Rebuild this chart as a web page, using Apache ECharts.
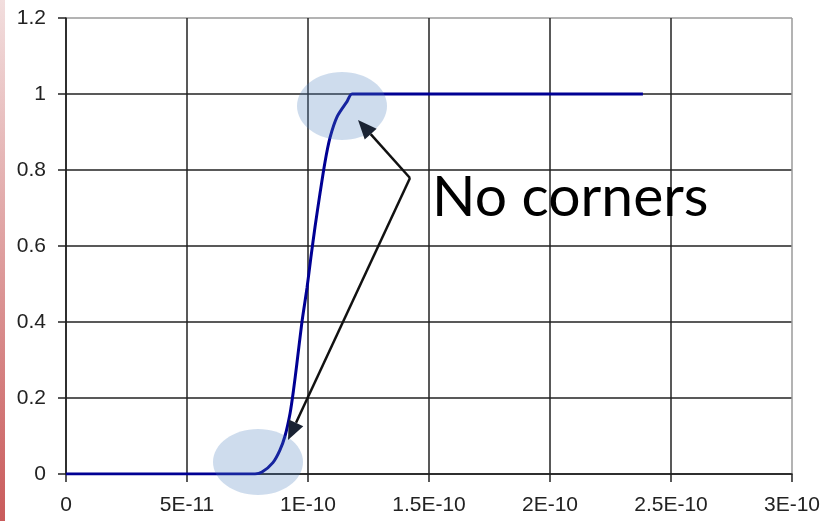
<!DOCTYPE html>
<html>
<head>
<meta charset="utf-8">
<script src="https://cdn.jsdelivr.net/npm/echarts@6/dist/echarts.min.js"></script>
<style>html,body{margin:0;padding:0;background:#fff}#c{width:823px;height:521px}</style>
</head>
<body>
<div id="c"></div>
<script>
// time (s) and normalized value
const times = [0, 7.81e-11, 8.10e-11, 8.55e-11, 8.84e-11, 9.05e-11, 9.26e-11, 9.40e-11, 9.54e-11, 9.75e-11, 9.96e-11, 1.012e-10, 1.029e-10, 1.050e-10, 1.070e-10, 1.091e-10, 1.120e-10, 1.161e-10, 1.182e-10, 2.384e-10];
const values = [0, 0, 0.005, 0.03, 0.063, 0.10, 0.16, 0.22, 0.29, 0.40, 0.49, 0.57, 0.65, 0.74, 0.82, 0.885, 0.94, 0.98, 1.0, 1.0];
const xTickLabels = ['0', '5E-11', '1E-10', '1.5E-10', '2E-10', '2.5E-10', '3E-10'];
const yTickLabels = ['0', '0.2', '0.4', '0.6', '0.8', '1', '1.2'];
const annotationText = 'No corners';

const chart = echarts.init(document.getElementById('c'));
const seriesData = times.map((t, i) => [t, values[i]]);

function arrow(x1, y1, x2, y2) {
  const ang = Math.atan2(y2 - y1, x2 - x1);
  const L = 19, W = 8;
  const bx = x2 - L * Math.cos(ang), by = y2 - L * Math.sin(ang);
  const px = -Math.sin(ang) * W, py = Math.cos(ang) * W;
  return [
    { type: 'line', shape: { x1: x1, y1: y1, x2: bx, y2: by }, style: { stroke: '#111', lineWidth: 2.5 }, z: 100 },
    { type: 'polygon', shape: { points: [[x2, y2], [bx + px, by + py], [bx - px, by - py]] }, style: { fill: '#1a2333' }, z: 100 }
  ];
}

const gridColorsY = ['#222', '#222', '#222', '#222', '#222', '#222', '#9a9a9a'];
const gridColorsX = ['#222', '#222', '#222', '#222', '#222', '#222', '#9a9a9a'];
const labelFont = 'Liberation Sans, Arial';

chart.setOption({
  animation: false,
  backgroundColor: '#fff',
  grid: { left: 66, right: 31, top: 18, bottom: 47, containLabel: false },
  xAxis: {
    type: 'value', min: 0, max: 3e-10, interval: 5e-11,
    axisLine: { show: true, onZero: false, lineStyle: { color: '#222', width: 1.5 } },
    axisTick: { show: true, length: 8, lineStyle: { color: '#222', width: 1.5 } },
    axisLabel: {
      margin: 21, color: '#222', fontFamily: labelFont, fontSize: 21,
      formatter: v => xTickLabels[Math.round(v / 5e-11)]
    },
    splitLine: { show: true, lineStyle: { color: gridColorsX, width: 1.5 } }
  },
  yAxis: {
    type: 'value', min: 0, max: 1.2, interval: 0.2,
    axisLine: { show: true, lineStyle: { color: '#222', width: 1.5 } },
    axisTick: { show: true, length: 8, lineStyle: { color: '#222', width: 1.5 } },
    axisLabel: {
      margin: 20, color: '#222', fontFamily: labelFont, fontSize: 21,
      formatter: v => yTickLabels[Math.round(v / 0.2)]
    },
    splitLine: { show: true, lineStyle: { color: gridColorsY, width: 1.5 } }
  },
  series: [{
    type: 'line', data: seriesData, showSymbol: false, smooth: 0.25,
    lineStyle: { color: '#000094', width: 3 }, z: 5
  }],
  graphic: [
    {
      type: 'rect', shape: { x: 0, y: 0, width: 5, height: 521 }, z: 0,
      style: { fill: new echarts.graphic.LinearGradient(0, 0, 0, 1, [{ offset: 0, color: '#f2dede' }, { offset: 1, color: '#c95b5b' }]) }
    },
    { type: 'ellipse', shape: { cx: 258, cy: 462, rx: 45, ry: 33 }, style: { fill: 'rgba(79,129,189,0.28)' }, z: 90 },
    { type: 'ellipse', shape: { cx: 342, cy: 106, rx: 45, ry: 34 }, style: { fill: 'rgba(79,129,189,0.28)' }, z: 90 },
    ...arrow(410, 178, 358, 120),
    ...arrow(410, 178, 288, 440),
    {
      type: 'text', x: 432, y: 169, z: 100,
      style: { text: annotationText, fill: '#000', font: '57px Lato' }
    }
  ]
});
</script>
</body>
</html>
